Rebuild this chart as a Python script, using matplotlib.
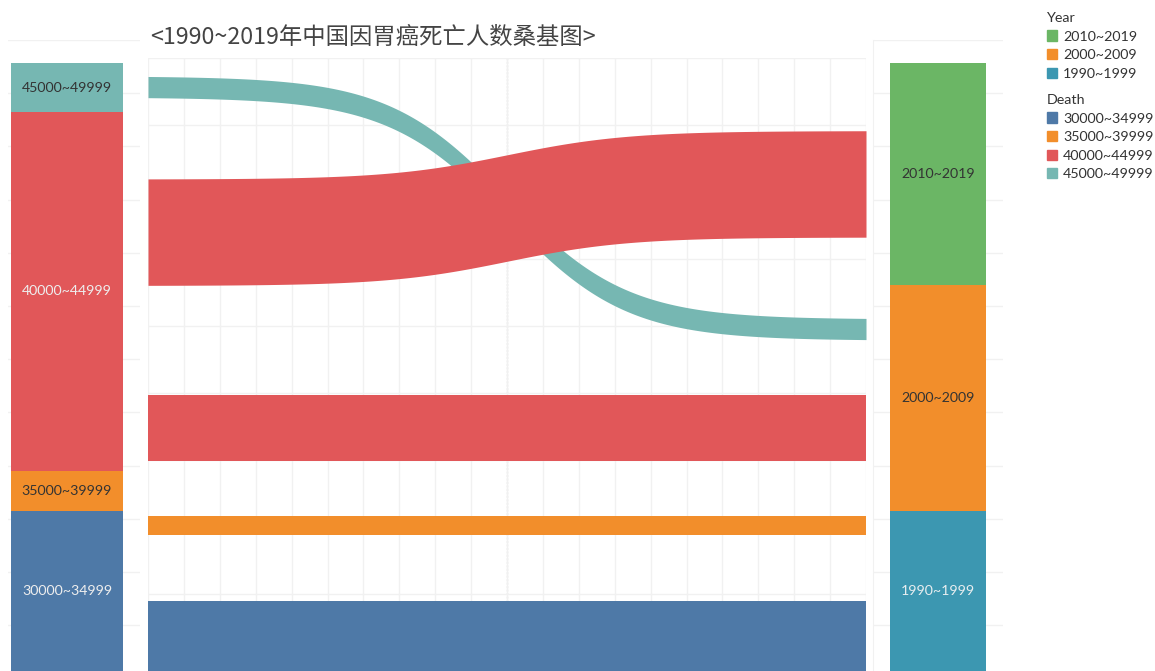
import numpy as np
import matplotlib
matplotlib.use('Agg')
import matplotlib.pyplot as plt
from matplotlib.patches import Patch

# 数据
death_bins = ['45000~49999', '40000~44999', '35000~39999', '30000~34999']
death_size = [2.2, 16.0, 1.8, 10.0]          # 左侧柱高度
year_bins = ['2010~2019', '2000~2009', '1990~1999']
year_size = [9.9, 10.1, 10.0]                # 右侧柱高度

flow_src = ['45000~49999', '40000~44999', '40000~44999', '35000~39999', '30000~34999']
flow_dst = ['2000~2009', '2010~2019', '2000~2009', '1990~1999', '1990~1999']
flow_val = [2.15, 10.8, 6.7, 2.0, 8.5]

death_colors = {'30000~34999': '#4e79a7', '35000~39999': '#f28e2b',
                '40000~44999': '#e15759', '45000~49999': '#76b7b2'}
year_colors = {'2010~2019': '#6bb665', '2000~2009': '#f28e2b', '1990~1999': '#3c97b1'}
death_txt = {'30000~34999': '#eeeeee', '35000~39999': '#333333',
             '40000~44999': '#eeeeee', '45000~49999': '#333333'}
year_txt = {'2010~2019': '#333333', '2000~2009': '#333333', '1990~1999': '#e8eef0'}

W, H = 1155, 671
S = 22.4      # 每单位像素
TOP = 63      # 0 单位对应的像素位置
FLOW_K = 0.44  # 流带粗细比例
GRID = '#f1f1f1'
FONT = ['Lato', 'DejaVu Sans']


def box(x0, y0, x1, y1):
    return [x0 / W, 1 - y1 / H, (x1 - x0) / W, (y1 - y0) / H]


def ylim_px(y0, y1):
    return ((y1 - TOP) / S, (y0 - TOP) / S)


def clean(ax):
    ax.tick_params(length=0, labelleft=False, labelbottom=False)
    for sp in ax.spines.values():
        sp.set_visible(False)


fig = plt.figure(figsize=(W / 100, H / 100), dpi=100)


def stacked_bar(rect, bar_x0, bar_x1, names, sizes, colors, txtc, fs):
    ax = fig.add_axes(box(*rect))
    bw = bar_x1 - bar_x0
    ax.set_xlim((rect[0] - bar_x0) / bw, (rect[2] - bar_x0) / bw)
    ylo, yhi = ylim_px(rect[1], rect[3])
    ax.set_ylim(ylo, yhi)
    ax.set_yticks(np.arange(yhi, ylo, 53.2 / S))
    ax.set_xticks([])
    ax.grid(axis='y', color=GRID, lw=1)
    ax.set_axisbelow(True)
    clean(ax)
    cum = 0
    for n, v in zip(names, sizes):
        ax.bar(0.5, v, width=1, bottom=cum, color=colors[n], linewidth=0)
        mid = (cum + min(cum + v, ylo)) / 2
        ax.text(0.5, mid, n, ha='center', va='center', fontsize=fs,
                color=txtc[n], family=FONT)
        cum += v
    return ax


axl = stacked_bar((8, 40, 140, H), 11, 123, death_bins, death_size,
                  death_colors, death_txt, 10.2)
axr = stacked_bar((873, 40, 1003, H), 890, 986, year_bins, year_size,
                  year_colors, year_txt, 10.2)
axr.spines['left'].set_visible(True)
axr.spines['left'].set_color(GRID)

# 中间流带
axm = fig.add_axes(box(148, 58, 866, H))
axm.set_xlim(-6, 6)
ylo, yhi = ylim_px(58, H)
axm.set_ylim(ylo, yhi)
axm.set_xticks(np.linspace(-6, 6, 21))
axm.set_yticks(np.arange(yhi, ylo, 67 / S))
axm.grid(color=GRID, lw=1)
axm.set_axisbelow(True)
clean(axm)
axm.axvline(0, color='#d9d9d9', lw=1, ls=(0, (1.5, 1)), zorder=0.5)

# 左右两端按顺序堆叠
left_pos, right_pos = {}, {}
cum = 0
for d in death_bins:
    for i in range(len(flow_val)):
        if flow_src[i] == d:
            left_pos[i] = cum + flow_val[i] / 2
            cum += flow_val[i]
cum = 0
for y in year_bins:
    for i in range(len(flow_val)):
        if flow_dst[i] == y:
            right_pos[i] = cum + flow_val[i] / 2
            cum += flow_val[i]

t = np.linspace(-6, 6, 400)
s = 1 / (1 + np.exp(-t))
s = (s - s[0]) / (s[-1] - s[0])
for i in range(len(flow_val)):
    yc = left_pos[i] + (right_pos[i] - left_pos[i]) * s
    th = flow_val[i] * FLOW_K / 2
    axm.fill_between(t, yc - th, yc + th, color=death_colors[flow_src[i]],
                     linewidth=0, zorder=2)

# 标题
fig.text(150 / W, 1 - 37 / H, '<1990~2019年中国因胃癌死亡人数桑基图>',
         ha='left', va='center', fontsize=16.8, color='#444444',
         family=['Noto Sans CJK SC', 'DejaVu Sans'])

# 图例
def legend(names, colors, title, ytop):
    hs = [Patch(color=colors[n]) for n in names]
    lg = fig.legend(hs, names, title=title, loc='upper left',
                    bbox_to_anchor=(1047 / W, 1 - ytop / H), frameon=False,
                    alignment='left', handlelength=0.72, handleheight=0.72,
                    handletextpad=0.4, labelspacing=0.45, borderpad=0,
                    borderaxespad=0, prop={'family': FONT, 'size': 10.3},
                    title_fontproperties={'family': FONT, 'size': 10.3})
    for tx in lg.get_texts():
        tx.set_color('#333333')
    lg.get_title().set_color('#333333')
    return lg


legend(year_bins, year_colors, 'Year', 12)
legend(death_bins[::-1], death_colors, 'Death', 94)

fig.savefig('out.png', dpi=100)
